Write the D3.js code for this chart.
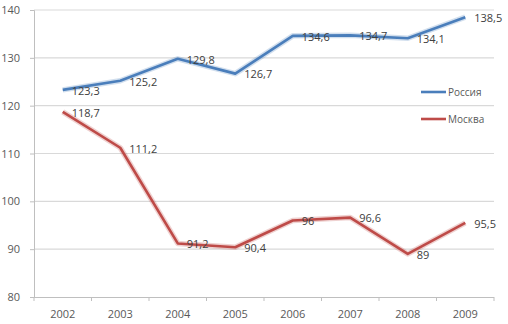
<!DOCTYPE html>
<html>
<head>
<meta charset="utf-8">
<script src="https://cdn.jsdelivr.net/npm/d3@7"></script>
<style>
  body { margin: 0; background: #fff; }
  text { font-family: "Open Sans", "DejaVu Sans", sans-serif; }
</style>
</head>
<body>
<svg width="508" height="324"></svg>
<script>
  const years = ["2002", "2003", "2004", "2005", "2006", "2007", "2008", "2009"];
  const russia = [123.3, 125.2, 129.8, 126.7, 134.6, 134.7, 134.1, 138.5];
  const moscow = [118.7, 111.2, 91.2, 90.4, 96, 96.6, 89, 95.5];
  const yTicks = [80, 90, 100, 110, 120, 130, 140];

  const series = [
    { name: "Россия", values: russia, color: "#4a7ebb" },
    { name: "Москва", values: moscow, color: "#be4b48" }
  ];

  const svg = d3.select("svg");
  const margin = { top: 10, right: 14, bottom: 27, left: 34 };
  const width = +svg.attr("width");
  const height = +svg.attr("height");
  const innerWidth = width - margin.left - margin.right;
  const innerHeight = height - margin.top - margin.bottom;

  const g = svg.append("g").attr("transform", `translate(${margin.left},${margin.top})`);

  const xScale = d3.scaleBand().domain(years).range([0, 460]);
  const yScale = d3.scaleLinear().domain([80, 140]).range([innerHeight, 0]);

  // gridlines
  g.selectAll(".grid")
    .data(yTicks.slice(1))
    .enter()
    .append("line")
    .attr("x1", 0)
    .attr("x2", 460)
    .attr("y1", (d) => yScale(d))
    .attr("y2", (d) => yScale(d))
    .attr("stroke", "#d9d9d9")
    .attr("stroke-width", 1.2);

  const yAxisG = g.append("g").call(d3.axisLeft(yScale).tickValues(yTicks).tickSize(4).tickPadding(10));
  yAxisG.select(".domain").attr("stroke", "#bfbfbf");
  yAxisG.selectAll(".tick line").attr("stroke", "#bfbfbf");
  yAxisG.selectAll("text").attr("fill", "#595959").style("font-size", "11px");

  const xAxisG = g.append("g")
    .attr("transform", `translate(0,${innerHeight})`)
    .call(d3.axisBottom(xScale).tickSize(0).tickPadding(13));
  xAxisG.select(".domain").attr("stroke", "#bfbfbf").attr("d", "M0,0.5H460");
  xAxisG.selectAll("text").attr("fill", "#595959").style("font-size", "11px");

  // tick marks between categories
  g.selectAll(".xtick")
    .data(years.concat(["end"]))
    .enter()
    .append("line")
    .attr("x1", (d, i) => i * xScale.step())
    .attr("x2", (d, i) => i * xScale.step())
    .attr("y1", innerHeight)
    .attr("y2", innerHeight + 4)
    .attr("stroke", "#bfbfbf");

  const cx = (d, i) => xScale(years[i]) + xScale.bandwidth() / 2;

  const line = d3.line().x(cx).y((d) => yScale(d));

  series.forEach((s) => {
    g.append("path")
      .attr("d", line(s.values))
      .attr("fill", "none")
      .attr("stroke", s.color)
      .attr("stroke-opacity", 0.25)
      .attr("stroke-width", 5.5)
      .attr("stroke-linejoin", "round");
    g.append("path")
      .attr("d", line(s.values))
      .attr("fill", "none")
      .attr("stroke", s.color)
      .attr("stroke-width", 2.6)
      .attr("stroke-linejoin", "round");

    g.selectAll(null)
      .data(s.values)
      .enter()
      .append("text")
      .attr("x", (d, i) => cx(d, i) + 9)
      .attr("y", (d) => yScale(d) + 1)
      .attr("dy", "0.35em")
      .attr("fill", "#404040")
      .style("font-size", "11px")
      .text((d) => String(d).replace(".", ","));
  });

  // legend
  const legend = g.append("g").attr("transform", "translate(387,82)");
  series.forEach((s, i) => {
    const row = legend.append("g").attr("transform", `translate(0,${i * 27})`);
    row.append("line")
      .attr("x1", 0).attr("x2", 25)
      .attr("stroke", s.color).attr("stroke-width", 2.6);
    row.append("text")
      .attr("x", 27).attr("dy", "0.35em")
      .attr("fill", "#595959")
      .style("font-size", "10px")
      .text(s.name);
  });
</script>
</body>
</html>
